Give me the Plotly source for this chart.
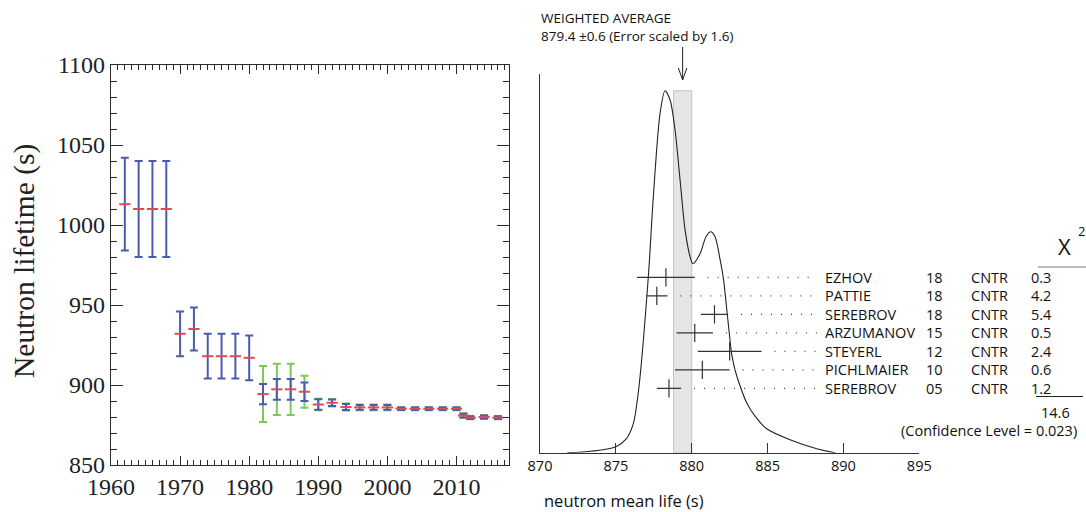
import plotly.graph_objects as go

W, H = 1086, 512

# ---------------- Left panel data: neutron lifetime history ----------------
years = [1962, 1964, 1966, 1968, 1970, 1972, 1974, 1976, 1978, 1980, 1982, 1984, 1986, 1988,
         1990, 1992, 1994, 1996, 1998, 2000, 2002, 2004, 2006, 2008, 2010, 2011, 2012, 2014, 2016]
lifetime = [1013, 1010, 1010, 1010, 932, 935, 918, 918, 918, 917, 894.3, 897.3, 897.3, 895.8,
            887.8, 888.9, 886.2, 886.0, 886.0, 886.0, 885.2, 885.2, 885.2, 885.2, 885.2, 880.9, 879.6, 880.0, 879.6]
err_blue = [29, 30, 30, 30, 14, 13.5, 14, 14, 14, 14, 6.3, 6.5, 6.5, 5.8,
            3.3, 2.0, 1.9, 1.5, 1.5, 1.5, 0.8, 0.8, 0.8, 0.8, 0.8, 1.2, 0.8, 0.9, 0.8]
err_green = [None] * 10 + [17.5, 16, 16, 10,
                           3.6, 2.3, 2.2, 1.8, 1.8, 1.8, 1.0, 1.0, 1.0, 1.0, 1.0, 1.4, 1.0, 1.2, 1.0]
left_yticks = [850, 900, 950, 1000, 1050, 1100]
left_xticks = [1960, 1970, 1980, 1990, 2000, 2010]

# ---------------- Right panel data: PDG ideogram ----------------
experiments = ["EZHOV", "PATTIE", "SEREBROV", "ARZUMANOV", "STEYERL", "PICHLMAIER", "SEREBROV"]
exp_years = ["18", "18", "18", "15", "12", "10", "05"]
technique = ["CNTR"] * 7
tau = [878.3, 877.7, 881.5, 880.2, 882.5, 880.7, 878.5]
tau_err = [1.9, 0.7, 0.9, 1.2, 2.1, 1.8, 0.8]
chi2 = ["0.3", "4.2", "5.4", "0.5", "2.4", "0.6", "1.2"]
chi2_total = "14.6"
conf_level = "0.023"
wavg, wavg_err, err_scale = 879.4, 0.6, 1.6
right_xticks = [870, 875, 880, 885, 890, 895]

# ideogram curve (x in s, height in arbitrary units)
ideo_x = [871.8, 873.0, 874.0, 875.0, 875.7, 876.15, 876.5, 877.14, 877.47, 877.91, 878.24,
          878.57, 878.9, 879.23, 879.56, 879.89, 880.07, 880.55, 880.94, 881.25, 881.54,
          881.87, 882.08, 882.41, 882.64, 882.85, 883.07, 883.62, 884.2, 884.94, 886.48,
          888.24, 889.45]
ideo_y = [0, 1, 2.7, 6, 14, 29, 63, 176, 256, 339, 362,
          353, 323, 273, 223, 196, 189, 199, 216, 221, 216,
          193, 175, 129, 98, 83, 72, 50, 36, 24, 13,
          4, 0]

# ---------------- Layout helpers ----------------
def px(x):
    return x / W

def py(y):
    return (H - y) / H

SERIF = "Liberation Serif"
SANS = "Open Sans"
BLUE = "rgb(72,92,178)"
GREEN = "rgb(125,200,90)"
RED = "rgb(232,70,80)"
AX = "#2a2a2a"

fig = go.Figure()

# ---- left panel traces ----
gx = [y for y, e in zip(years, err_green) if e is not None]
gv = [v for v, e in zip(lifetime, err_green) if e is not None]
ge = [e for e in err_green if e is not None]
fig.add_trace(go.Scatter(
    x=gx, y=gv, mode="markers", marker=dict(size=1, color="rgba(0,0,0,0)"),
    error_y=dict(type="data", array=ge, color=GREEN, thickness=2, width=4),
    xaxis="x", yaxis="y", showlegend=False, hoverinfo="skip"))
fig.add_trace(go.Scatter(
    x=years, y=lifetime, mode="markers", marker=dict(size=1, color="rgba(0,0,0,0)"),
    error_y=dict(type="data", array=err_blue, color=BLUE, thickness=2, width=4),
    xaxis="x", yaxis="y", showlegend=False, hoverinfo="skip"))
fig.add_trace(go.Scatter(
    x=years, y=lifetime, mode="markers",
    marker=dict(symbol="line-ew", size=8, line=dict(color=RED, width=2)),
    xaxis="x", yaxis="y", showlegend=False, hoverinfo="skip"))

# ---- right panel ----
fig.add_trace(go.Scatter(
    x=ideo_x, y=ideo_y, mode="lines", line=dict(color="#222", width=1.1, shape="spline", smoothing=0.8),
    xaxis="x2", yaxis="y2", showlegend=False, hoverinfo="skip"))

row_top, row_step = 175.4, 18.5
row_y = [row_top - i * row_step for i in range(len(experiments))]
dot_end = 870 + (817 - 540) / 15.17

for i in range(len(experiments)):
    lo, hi = tau[i] - tau_err[i], tau[i] + tau_err[i]
    fig.add_trace(go.Scatter(
        x=[lo, hi], y=[row_y[i], row_y[i]], mode="lines", line=dict(color="#333", width=1.2),
        xaxis="x2", yaxis="y2", showlegend=False, hoverinfo="skip"))
    fig.add_trace(go.Scatter(
        x=[hi + 0.85, dot_end], y=[row_y[i], row_y[i]], mode="lines",
        line=dict(color="#444", width=1.3, dash="1px,9px"),
        xaxis="x2", yaxis="y2", showlegend=False, hoverinfo="skip"))

fig.add_trace(go.Scatter(
    x=tau, y=row_y, mode="markers",
    marker=dict(symbol="line-ns", size=13, line=dict(color="#333", width=1.2)),
    xaxis="x2", yaxis="y2", showlegend=False, hoverinfo="skip"))

shapes = []
shapes.append(dict(type="rect", xref="x2", yref="y2", x0=wavg - wavg_err, x1=wavg + wavg_err,
                   y0=0, y1=max(ideo_y), fillcolor="#e5e5e5", line=dict(color="#c4c4c4", width=1),
                   layer="below"))
shapes.append(dict(type="line", xref="x2", yref="paper", x0=wavg, x1=wavg, y0=py(47), y1=py(80),
                   line=dict(color="#222", width=1)))
shapes.append(dict(type="path", xref="x2", yref="paper",
                   path=f"M {wavg - 0.28},{py(68)} L {wavg},{py(80)} L {wavg + 0.28},{py(68)}",
                   line=dict(color="#222", width=1)))
shapes.append(dict(type="line", xref="paper", yref="paper", x0=px(1038), x1=px(1086),
                   y0=py(267), y1=py(267), line=dict(color="#777", width=1)))
shapes.append(dict(type="line", xref="paper", yref="paper", x0=px(1036), x1=px(1083),
                   y0=py(396.5), y1=py(396.5), line=dict(color="#222", width=1)))

annotations = []
annotations.append(dict(text="Neutron lifetime (s)", xref="paper", yref="paper", x=px(24), y=py(261),
                        textangle=-90, showarrow=False, font=dict(family=SERIF, size=29.5, color="#222"),
                        xanchor="center", yanchor="middle"))
annotations.append(dict(text=f"WEIGHTED AVERAGE<br>{wavg} \u00b1{wavg_err} (Error scaled by {err_scale})",
                        xref="paper", yref="paper", x=px(539), y=py(27), align="left",
                        showarrow=False, xanchor="left", yanchor="middle",
                        font=dict(family=SANS, size=13.5, color="#111")))
annotations.append(dict(text="neutron mean life (s)", xref="paper", yref="paper", x=px(542), y=py(500),
                        showarrow=False, xanchor="left", yanchor="middle",
                        font=dict(family=SANS, size=16.5, color="#111")))
tfont = dict(family=SANS, size=14.5, color="#111")
for i in range(len(experiments)):
    yy = py(452.7 - row_y[i])
    annotations.append(dict(text=experiments[i], xref="paper", yref="paper", x=px(823), y=yy,
                            showarrow=False, xanchor="left", yanchor="middle", font=tfont))
    annotations.append(dict(text=exp_years[i], xref="paper", yref="paper", x=px(934), y=yy,
                            showarrow=False, xanchor="center", yanchor="middle", font=tfont))
    annotations.append(dict(text=technique[i], xref="paper", yref="paper", x=px(989), y=yy,
                            showarrow=False, xanchor="center", yanchor="middle", font=tfont))
    annotations.append(dict(text=chi2[i], xref="paper", yref="paper", x=px(1041), y=yy,
                            showarrow=False, xanchor="center", yanchor="middle", font=tfont))
annotations.append(dict(text="X", xref="paper", yref="paper", x=px(1064), y=py(246),
                        showarrow=False, xanchor="center", yanchor="middle",
                        font=dict(family=SANS, size=22, color="#111")))
annotations.append(dict(text="2", xref="paper", yref="paper", x=px(1081), y=py(231),
                        showarrow=False, xanchor="center", yanchor="middle",
                        font=dict(family=SANS, size=13, color="#111")))
annotations.append(dict(text=chi2_total, xref="paper", yref="paper", x=px(1055), y=py(412),
                        showarrow=False, xanchor="center", yanchor="middle", font=tfont))
annotations.append(dict(text=f"(Confidence Level = {conf_level})", xref="paper", yref="paper",
                        x=px(1079), y=py(430), showarrow=False, xanchor="right", yanchor="middle",
                        font=tfont))

fig.update_layout(
    width=W, height=H, margin=dict(l=0, r=0, t=0, b=0, autoexpand=False),
    paper_bgcolor="white", plot_bgcolor="white",
    showlegend=False,
    xaxis=dict(domain=[px(111), px(509)], range=[1960, 2017.6], tickvals=left_xticks,
               ticktext=[str(v) for v in left_xticks], automargin=False,
               showline=True, linecolor=AX, linewidth=1.3, mirror="ticks",
               ticks="inside", ticklen=9, tickwidth=1.3, tickcolor=AX,
               minor=dict(dtick=1, tick0=1960, ticks="inside", ticklen=5, tickwidth=1, tickcolor=AX),
               showgrid=False, zeroline=False,
               tickfont=dict(family=SERIF, size=24, color="#222"), anchor="y"),
    yaxis=dict(domain=[py(465), py(65)], range=[850, 1100], tickvals=left_yticks, automargin=False,
               showline=True, linecolor=AX, linewidth=1.3, mirror="ticks",
               ticks="inside", ticklen=12, tickwidth=1.3, tickcolor=AX,
               minor=dict(dtick=10, tick0=850, ticks="inside", ticklen=6, tickwidth=1, tickcolor=AX),
               showgrid=False, zeroline=False,
               tickfont=dict(family=SERIF, size=24, color="#222"), anchor="x"),
    xaxis2=dict(domain=[px(540), px(919.3)], range=[870, 895], tickvals=right_xticks, automargin=False,
                showline=True, linecolor="#333", linewidth=1, mirror=False,
                ticks="inside", ticklen=10, tickwidth=1, tickcolor="#333",
                showgrid=False, zeroline=False,
                tickfont=dict(family=SANS, size=14.5, color="#111"), anchor="y2"),
    yaxis2=dict(domain=[py(452.7), py(74)], range=[0, 378.7], automargin=False,
                showline=True, linecolor="#333", linewidth=1, mirror=False,
                showticklabels=False, ticks="", showgrid=False, zeroline=False, anchor="x2"),
    shapes=shapes,
    annotations=annotations,
)

fig.write_html("out.html")
